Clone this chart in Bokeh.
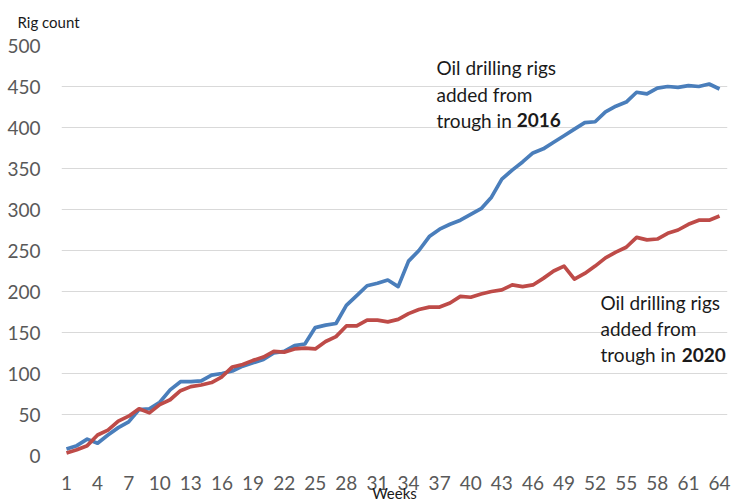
from bokeh.plotting import figure
from bokeh.models import FixedTicker, Label, Range1d
from bokeh.embed import file_html
from bokeh.resources import INLINE

weeks = list(range(1, 65))
rigs_2016 = [8, 12, 20, 15, 25, 34, 41, 56, 57, 65, 80, 90, 90, 91, 98, 100,
             103, 109, 113, 117, 125, 127, 134, 136, 156, 159, 161, 183, 195, 207, 210, 214,
             206, 237, 250, 267, 276, 282, 287, 294, 301, 315, 337, 348, 358, 369, 374, 382,
             390, 398, 406, 407, 419, 426, 431, 443, 441, 448, 450, 449, 451, 450, 453, 447]
rigs_2020 = [3, 7, 12, 25, 31, 42, 48, 57, 52, 62, 68, 79, 84, 86, 89, 96,
             108, 111, 116, 120, 127, 126, 130, 131, 130, 139, 145, 158, 158, 165, 165, 163,
             166, 173, 178, 181, 181, 186, 194, 193, 197, 200, 202, 208, 206, 208, 216, 225,
             231, 215, 222, 231, 241, 248, 254, 266, 263, 264, 271, 275, 282, 287, 287, 292]
x_ticks = list(range(1, 65, 3))
y_ticks = list(range(0, 501, 50))

FONT = "Lato"
TICK_COLOR = "#595959"
TEXT_COLOR = "#1a1a1a"

p = figure(width=732, height=504, output_backend="svg", toolbar_location=None,
           x_range=Range1d(0.52, 64.77), y_range=Range1d(0, 500),
           min_border_left=61, min_border_right=5, min_border_top=45, min_border_bottom=48)
p.outline_line_color = None
p.background_fill_color = "white"
p.border_fill_color = "white"

p.title.text = "Rig count"
p.title.align = "left"
p.title.vertical_align = "top"
p.title.offset = -44
p.title.standoff = 25
p.title.text_font = FONT
p.title.text_font_size = "15px"
p.title.text_font_style = "normal"
p.title.text_color = TEXT_COLOR

p.line(weeks, rigs_2016, line_color="#4A7EBB", line_width=3.7, line_join="round")
p.line(weeks, rigs_2020, line_color="#BE4B48", line_width=3.7, line_join="round")

for ax in (p.xaxis[0], p.yaxis[0]):
    ax.axis_line_color = None
    ax.major_tick_line_color = None
    ax.minor_tick_line_color = None
    ax.major_label_text_font = FONT
    ax.major_label_text_font_size = "19px"
    ax.major_label_text_color = TICK_COLOR

p.xaxis[0].ticker = FixedTicker(ticks=x_ticks)
p.yaxis[0].ticker = FixedTicker(ticks=y_ticks)
p.xaxis[0].major_label_standoff = 14
p.yaxis[0].major_label_standoff = 15
p.xaxis[0].axis_label = "Weeks"
p.xaxis[0].axis_label_text_font = FONT
p.xaxis[0].axis_label_text_font_size = "15px"
p.xaxis[0].axis_label_text_font_style = "normal"
p.xaxis[0].axis_label_text_color = TEXT_COLOR
p.xaxis[0].axis_label_standoff = -9
p.xgrid.grid_line_color = None
p.ygrid.grid_line_color = "#d9d9d9"
p.ygrid.grid_line_width = 1.2
p.ygrid.ticker = FixedTicker(ticks=y_ticks)

def add_label(x, y, text, bold=False):
    p.add_layout(Label(x=x, y=y, text=text, text_font=FONT, text_font_size="19px",
                       text_color=TEXT_COLOR, text_align="left", text_baseline="middle",
                       text_font_style="bold" if bold else "normal"))

# 2016 annotation
add_label(36.7, 473, "Oil drilling rigs")
add_label(36.7, 440, "added from")
add_label(36.7, 408.8, "trough in")
add_label(44.43, 408.8, "2016", bold=True)

# 2020 annotation
add_label(52.52, 186, "Oil drilling rigs")
add_label(52.52, 154.5, "added from")
add_label(52.52, 122.9, "trough in")
add_label(60.35, 122.9, "2020", bold=True)

open("out.html", "w").write(file_html(p, INLINE))
